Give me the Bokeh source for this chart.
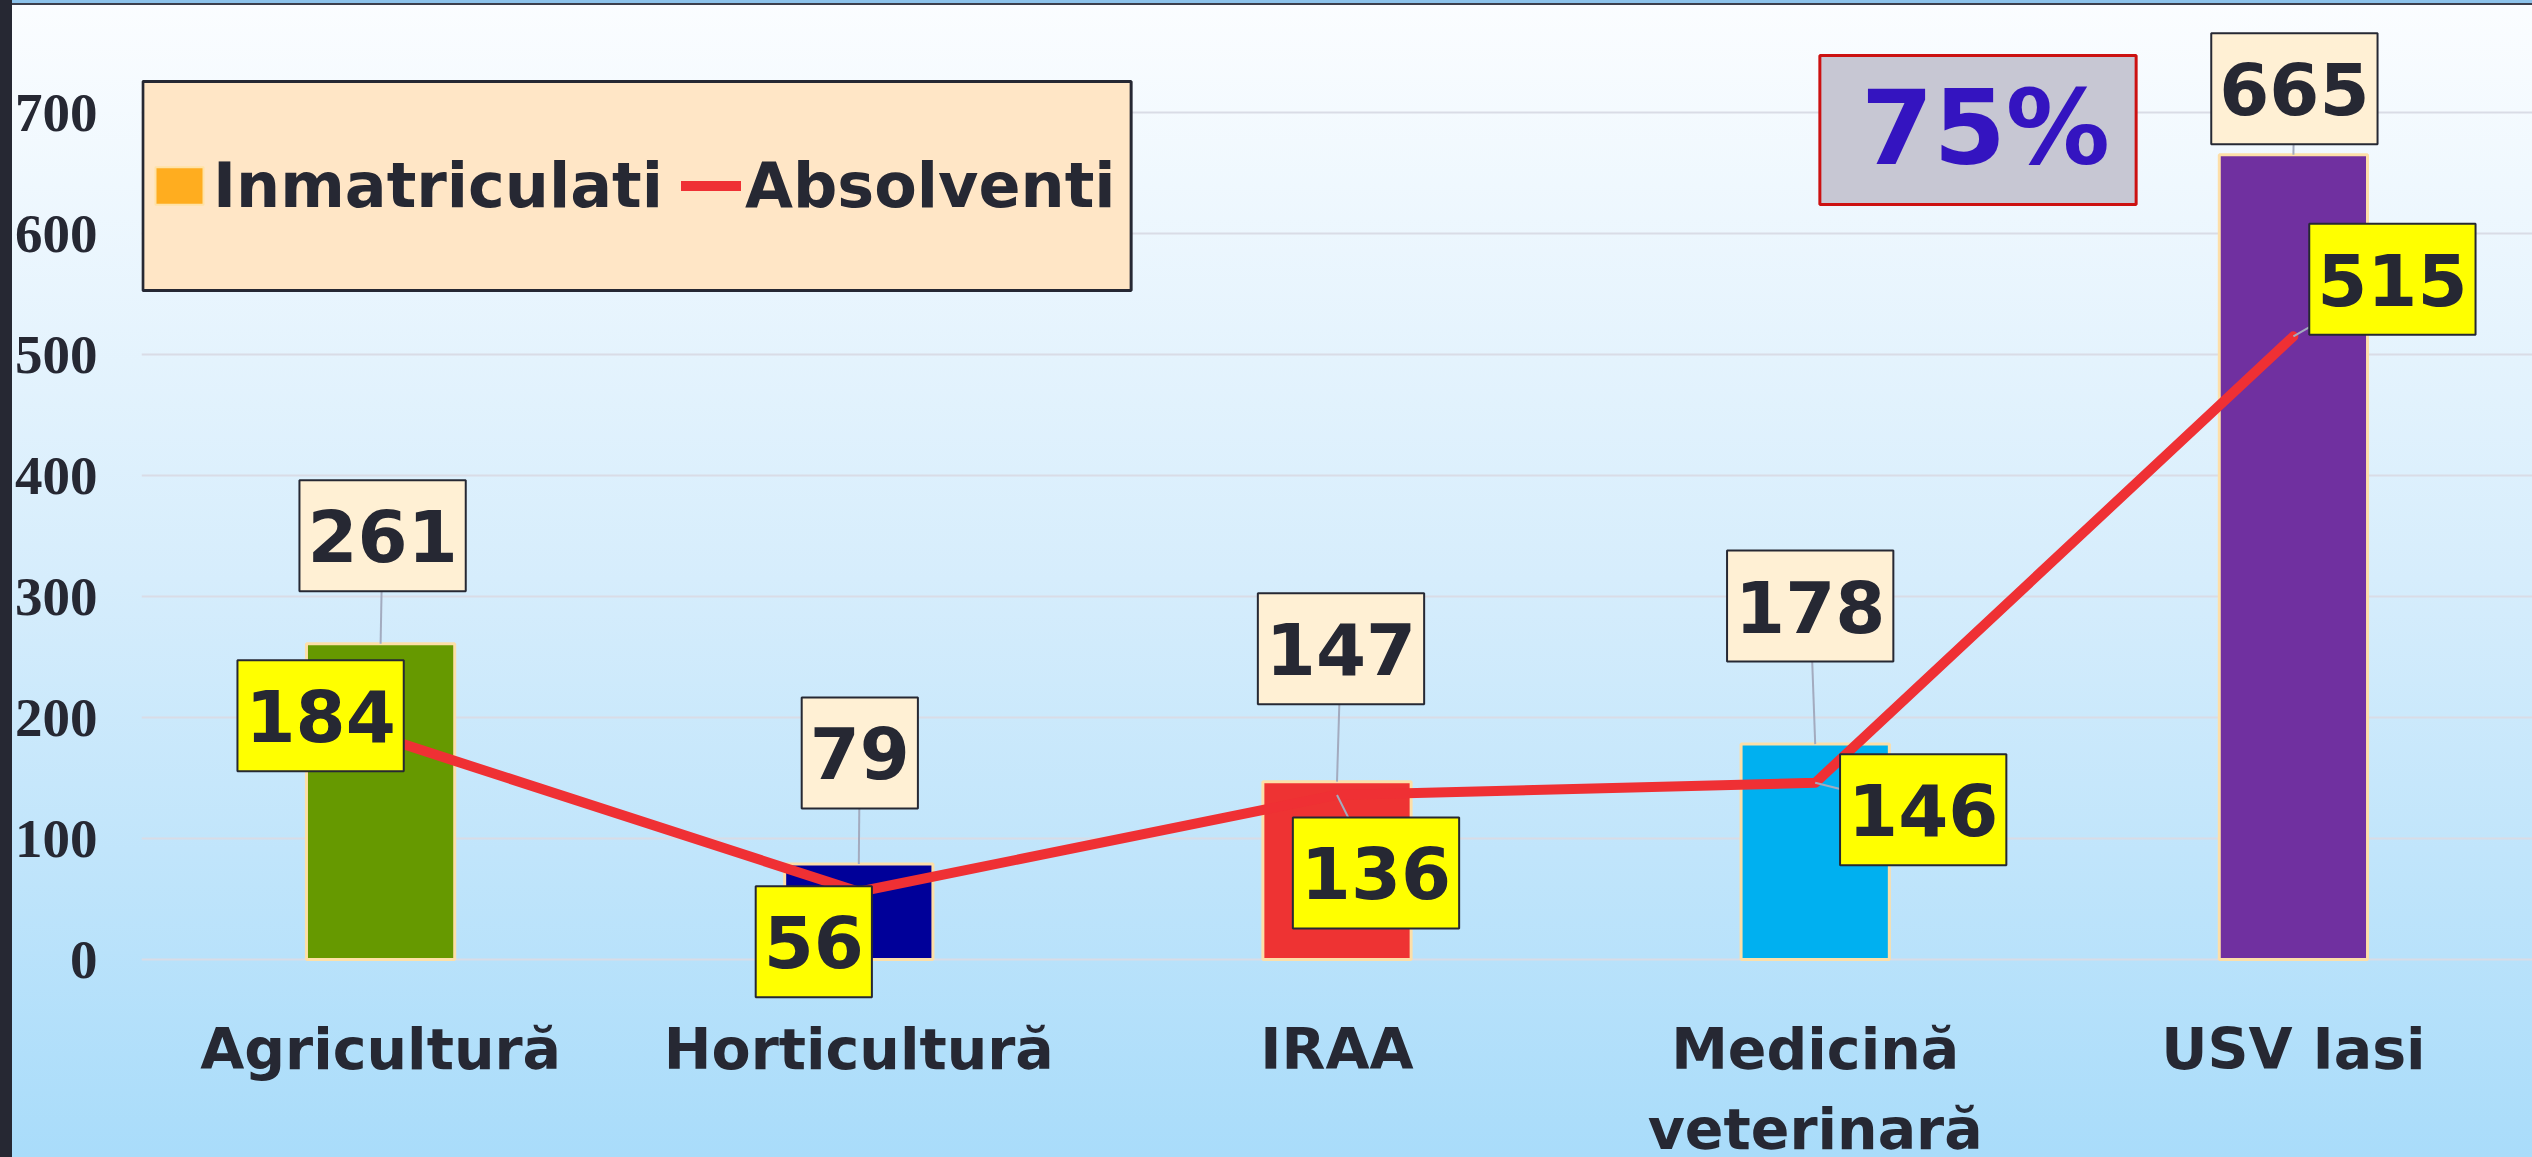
from bokeh.plotting import figure
from bokeh.models import (ColumnDataSource, FactorRange, Range1d, Label,
                          Legend, LegendItem)
from bokeh.core.properties import value
from bokeh.embed import file_html
from bokeh.resources import INLINE

# ---------------- data ----------------
categories = ["Agricultură", "Horticultură", "IRAA", "Medicină veterinară", "USV Iasi"]
category_labels = ["Agricultură", "Horticultură", "IRAA", "Medicină\nveterinară", "USV Iasi"]
inmatriculati = [261, 79, 147, 178, 665]
absolventi = [184, 56, 136, 146, 515]
y_ticks = [0, 100, 200, 300, 400, 500, 600, 700]
series_names = ["Inmatriculati", "Absolventi"]
share_text = "75%"

# ---------------- styles / layout ----------------
bar_colors = ["#669900", "#000099", "#ee3333", "#00b0f0", "#7030a0"]
# label box offsets in screen pixels (dx, dy up) from the data point
inm_offsets = [(2, 108), (1, 111), (4, 133), (-5, 138), (1, 66)]
abs_offsets = [(-60, 21), (-45, -50), (39, -78), (108, -27), (99, 57)]

HEAVY = "DejaVu Sans"
DARK = "#262833"
W, H = 2532, 1157
FL = 141                  # frame left (px)
ZERO_Y = 959              # pixel row of the value 0
PX_PER_UNIT = 1.21
Y_END = ZERO_Y / PX_PER_UNIT
Y_START = -(H - ZERO_Y) / PX_PER_UNIT

p = figure(x_range=FactorRange(*categories), y_range=Range1d(Y_START, Y_END),
           width=W, height=H, output_backend="svg", toolbar_location=None,
           min_border_left=FL, min_border_right=0, min_border_top=0,
           min_border_bottom=0)
p.styles = {"background": (
    "linear-gradient(to right, #262833 0px, #262833 12px, transparent 12px), "
    "linear-gradient(to bottom, #8cc2ea 0px, #8cc2ea 3px, #3c3f4c 3px, #3c3f4c 5px, transparent 5px), "
    "linear-gradient(180deg, #fbfdff 0%, #d6edfc 50%, #a9dcfa 100%)")}
p.background_fill_color = None
p.border_fill_color = None
p.outline_line_color = None

p.xgrid.visible = False
p.ygrid.grid_line_color = "#d9dce6"
p.ygrid.grid_line_width = 2

p.yaxis.ticker = y_ticks
p.yaxis.axis_line_color = None
p.yaxis.major_tick_line_color = None
p.yaxis.minor_tick_line_color = None
p.yaxis.major_tick_out = 0
p.yaxis.major_tick_in = 0
p.yaxis.major_label_standoff = 44
p.yaxis.major_label_text_font = "Liberation Serif"
p.yaxis.major_label_text_font_style = "bold"
p.yaxis.major_label_text_font_size = "55px"
p.yaxis.major_label_text_color = DARK

p.xaxis.visible = False

src = ColumnDataSource(dict(cats=categories, names=category_labels, inm=inmatriculati,
                            absv=absolventi, color=bar_colors))

p.vbar(x="cats", top="inm", bottom=0, width=0.31, fill_color="color",
       line_color="#fddfa8", line_width=3, source=src)
r_line = p.line(x="cats", y="absv", line_color="#ef3034", line_width=10,
                line_join="round", line_cap="round", source=src)

# category names under the zero line (placed on the categorical scale)
p.text(x="cats", y=0, text="names", y_offset=56, text_align="center",
       text_baseline="top", text_font=value(HEAVY), text_font_style="bold",
       text_font_size="57px", text_color=DARK, text_line_height=1.22, source=src)

# leader lines from the points to their labels
PX_PER_CAT = (W - FL) / len(categories)
lx0, ly0, lx1, ly1 = [], [], [], []
for i, c in enumerate(categories):
    for val, (dx, dy) in ((inmatriculati[i], inm_offsets[i]), (absolventi[i], abs_offsets[i])):
        lx0.append(i + 0.5)
        ly0.append(val)
        lx1.append(i + 0.5 + dx / PX_PER_CAT)
        ly1.append(val + dy / PX_PER_UNIT)
p.segment(x0=lx0, y0=ly0, x1=lx1, y1=ly1, line_color="#a3abbf", line_width=2)

# zero-height renderer that only provides the orange legend swatch
dummy = p.vbar(x=categories[:1], top=[0], bottom=[0], width=0.3, fill_color="#ffad1f",
               line_color="#ffe2a6", line_width=2)

# data labels (x given as the category's position on the factor range)
for i, c in enumerate(categories):
    xc = i + 0.5
    for val, (dx, dy), fill in ((inmatriculati[i], inm_offsets[i], "#fff0d4"),
                                (absolventi[i], abs_offsets[i], "#ffff00")):
        p.add_layout(Label(x=xc, y=val, x_offset=dx, y_offset=dy,
                           text=str(val), text_align="center",
                           text_baseline="middle", text_font=HEAVY, text_font_style="bold",
                           text_font_size="72px", text_color=DARK,
                           background_fill_color=fill, border_line_color=DARK,
                           border_line_width=2,
                           padding=dict(left=8, right=8, top=29, bottom=29)))

# legend frame (an empty label used as a box)
p.add_layout(Label(x=636.5 - FL, y=H - 185.5, x_units="screen", y_units="screen",
                   text=" ", text_font_size="1px", text_align="center",
                   text_baseline="middle", background_fill_color="#ffe6c6",
                   border_line_color=DARK, border_line_width=3,
                   padding=dict(left=494, right=494, top=104, bottom=104)))
legend = Legend(items=[LegendItem(label=series_names[0], renderers=[dummy]),
                       LegendItem(label=series_names[1], renderers=[r_line])],
                orientation="horizontal", location=(8, H - 222),
                background_fill_alpha=0, border_line_color=None,
                padding=0, margin=0, spacing=18, label_standoff=4,
                glyph_width=60, glyph_height=47, label_height=47,
                label_text_font=HEAVY, label_text_font_style="bold",
                label_text_font_size="62px", label_text_color=DARK)
p.add_layout(legend)

# 75% box
p.add_layout(Label(x=1977.5 - FL, y=H - 129.5, x_units="screen", y_units="screen",
                   text=" ", text_font_size="1px", text_align="center",
                   text_baseline="middle", background_fill_color="#c7c7d3",
                   border_line_color="#cc1111", border_line_width=3,
                   padding=dict(left=158, right=158, top=74, bottom=74)))
p.add_layout(Label(x=1985 - FL, y=H - 127, x_units="screen", y_units="screen",
                   text=share_text, text_align="center", text_baseline="middle",
                   text_font=HEAVY, text_font_style="bold", text_font_size="104px",
                   text_color="#3414c0"))

with open("out.html", "w", encoding="utf-8") as f:
    f.write(file_html(p, INLINE))
